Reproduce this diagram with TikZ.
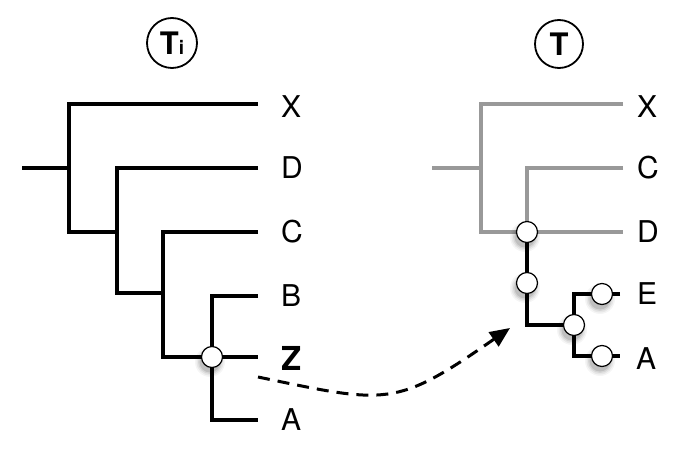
\documentclass[tikz,border=0pt]{standalone}
\usepackage{fontspec}
\setmainfont{TeX Gyre Heros}
\usetikzlibrary{arrows.meta,calc}
\newcommand\dotshadow[1]{%
  \foreach \rr/\oo in {15/0.04,13.5/0.06,12/0.08,10.5/0.1}{%
    \fill[black,opacity=\oo] ($(#1)+(-2,5)$) circle (\rr pt);}}
\begin{document}
\begin{tikzpicture}[x=1pt,y=-1pt,
  br/.style={line width=4.6pt, line join=miter, line cap=butt},
  gbr/.style={br, draw=black!40},
  leaf/.style={anchor=west, inner sep=0pt, font=\fontsize{30}{30}\selectfont},
  dot/.style={circle, draw=black, fill=white, line width=1.2pt, minimum size=21pt, inner sep=0pt},
  head/.style={circle, draw=black, line width=1.8pt, minimum size=50pt, inner sep=0pt}]
\useasboundingbox (0,0) rectangle (685,457);
% headers
\node[head] (hTi) at (172,43) {\fontsize{31}{31}\selectfont\bfseries T\fontsize{19}{19}\selectfont i};
\node[head, minimum size=48pt] (hT) at (559,44) {\fontsize{31}{31}\selectfont\bfseries T};
% ---------- left tree ----------
\coordinate (lr0) at (22,168);
\coordinate (l1) at (69,168);
\coordinate (l2) at (117,232);
\coordinate (l3) at (163,293);
\coordinate (l4) at (212,357);
\coordinate (lX) at (258,104);
\coordinate (lD) at (258,168);
\coordinate (lC) at (258,232);
\coordinate (lB) at (258,296);
\coordinate (lZ) at (258,357);
\coordinate (lA) at (258,420);
\draw[br] (lr0) -- (l1);
\draw[br] (lX) -- (lX -| l1) -- (l1 |- l2) -- (l2);
\draw[br] (lD) -- (lD -| l2) -- (l2 |- l3) -- (l3);
\draw[br] (lC) -- (lC -| l3) -- (l3 |- l4) -- (l4);
\draw[br] (lB) -- (lB -| l4) -- (lA -| l4) -- (lA);
\draw[br] (l4) -- (lZ);
\node[leaf] (tX) at (281,107) {X};
\node[leaf] (tD) at (281,168) {D};
\node[leaf] (tC) at (281,232) {C};
\node[leaf] (tB) at (281,296) {B};
\node[leaf, font=\fontsize{33}{33}\selectfont\bfseries] (tZ) at (281,358) {Z};
\node[leaf] (tA) at (281,420) {A};
\dotshadow{l4}
\node[dot] (dZ) at (l4) {};
% ---------- right tree ----------
\coordinate (rr0) at (432,168);
\coordinate (r1) at (481,168);
\coordinate (r2) at (527,232);
\coordinate (r2b) at (527,283);
\coordinate (r3) at (527,325);
\coordinate (r4) at (574,325);
\coordinate (rX) at (623,104);
\coordinate (rC) at (623,168);
\coordinate (rD) at (623,232);
\coordinate (rE) at (620,294);
\coordinate (rA) at (620,356);
\coordinate (rEd) at (602,294);
\coordinate (rAd) at (602,356);
\draw[gbr] (rr0) -- (r1);
\draw[gbr] (rX) -- (rX -| r1) -- (r1 |- r2) -- (rD);
\draw[gbr] (rC) -- (rC -| r2) -- (r2);
\draw[br] (r2) -- (r3) -- (r4);
\draw[br] (rE) -- (rE -| r4) -- (rA -| r4) -- (rA);
\node[leaf] (sX) at (637,107) {X};
\node[leaf] (sC) at (637,168) {C};
\node[leaf] (sD) at (637,232) {D};
\node[leaf] (sE) at (637,294) {E};
\node[leaf] (sA) at (636,359) {A};
\dotshadow{r2}
\node[dot] (d1) at (r2) {};
\dotshadow{r2b}
\node[dot] (d2) at (r2b) {};
\dotshadow{r4}
\node[dot] (d3) at (r4) {};
\dotshadow{rEd}
\node[dot] (d4) at (rEd) {};
\dotshadow{rAd}
\node[dot] (d5) at (rAd) {};
% ---------- dashed arrow ----------
\coordinate (aS) at (258,377);
\coordinate (aE) at (510,328);
\draw[line width=3pt, dash pattern=on 12pt off 8pt,
  -{Triangle[length=20pt,width=17pt]}]
  (aS) .. controls (388,404) and (395,408) .. (aE);
\end{tikzpicture}
\end{document}
